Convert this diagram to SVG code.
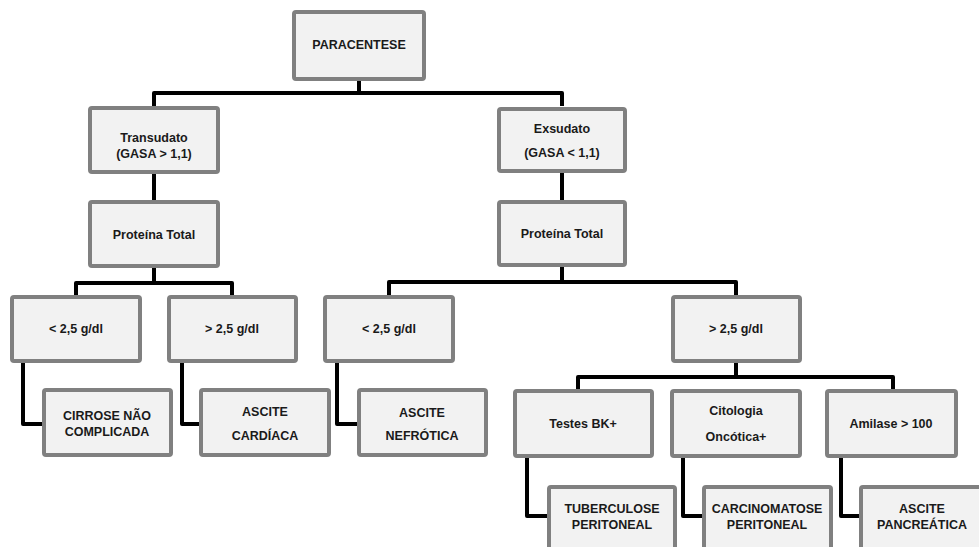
<svg xmlns="http://www.w3.org/2000/svg" width="979" height="547" viewBox="0 0 979 547">
<style>
.box rect{fill:#f2f2f2;stroke:#808080;stroke-width:4}
.box text{font-family:"Liberation Sans",Arial,sans-serif;font-size:12.5px;font-weight:bold;fill:#1a1a1a;text-anchor:middle}
#connectors path{fill:none;stroke:#000;stroke-width:4;stroke-linejoin:round}
</style>
<rect width="979" height="547" fill="#fff"/>
<g id="connectors">
<path d="M359 81V93M154 106V93H562V106"/>
<path d="M154 174V200M154 268V283M76 295V283H232V295"/>
<path d="M562 173V200M562 267V282M389 295V282H736V295"/>
<path d="M23 363V424H42M182 363V424H199M337 363V424H357"/>
<path d="M736 363V377M578 389V377H893V389"/>
<path d="M527 458V516H547M683 458V516H702M841 458V516H859"/>
</g>
<g id="paracentese" class="box"><rect x="294" y="12" width="130" height="67" rx="2"/><text x="359" y="49">PARACENTESE</text></g>
<g id="transudato" class="box"><rect x="90" y="108" width="128" height="64" rx="2"/><text x="154" y="142">Transudato</text><text x="154" y="158">(GASA &gt; 1,1)</text></g>
<g id="proteina-left" class="box"><rect x="90" y="202" width="128" height="64" rx="2"/><text x="154" y="239">Proteína Total</text></g>
<g id="exsudato" class="box"><rect x="499" y="109" width="126" height="62" rx="2"/><text x="562" y="133">Exsudato</text><text x="562" y="157">(GASA &lt; 1,1)</text></g>
<g id="proteina-right" class="box"><rect x="499" y="202" width="126" height="63" rx="2"/><text x="562" y="238">Proteína Total</text></g>
<g id="lt25-left" class="box"><rect x="12" y="297" width="128" height="64" rx="2"/><text x="76" y="333">&lt; 2,5 g/dl</text></g>
<g id="gt25-left" class="box"><rect x="169" y="297" width="127" height="64" rx="2"/><text x="232" y="333">&gt; 2,5 g/dl</text></g>
<g id="lt25-right" class="box"><rect x="325" y="297" width="128" height="64" rx="2"/><text x="389" y="333">&lt; 2,5 g/dl</text></g>
<g id="gt25-right" class="box"><rect x="673" y="297" width="127" height="64" rx="2"/><text x="736" y="333">&gt; 2,5 g/dl</text></g>
<g id="cirrose" class="box"><rect x="44" y="390" width="127" height="65" rx="2"/><text x="107" y="420">CIRROSE NÃO</text><text x="107" y="436">COMPLICADA</text></g>
<g id="cardiaca" class="box"><rect x="201" y="390" width="128" height="65" rx="2"/><text x="265" y="416">ASCITE</text><text x="265" y="440">CARDÍACA</text></g>
<g id="nefrotica" class="box"><rect x="359" y="390" width="127" height="65" rx="2"/><text x="422" y="417">ASCITE</text><text x="422" y="440">NEFRÓTICA</text></g>
<g id="testes-bk" class="box"><rect x="515" y="391" width="137" height="65" rx="2"/><text x="583" y="428">Testes BK+</text></g>
<g id="citologia" class="box"><rect x="672" y="391" width="128" height="65" rx="2"/><text x="736" y="415">Citologia</text><text x="736" y="441">Oncótica+</text></g>
<g id="amilase" class="box"><rect x="827" y="391" width="129" height="65" rx="2"/><text x="891" y="428">Amilase &gt; 100</text></g>
<g id="tuberculose" class="box"><rect x="549" y="487" width="126" height="80" rx="2"/><text x="612" y="513">TUBERCULOSE</text><text x="612" y="529">PERITONEAL</text></g>
<g id="carcinomatose" class="box"><rect x="704" y="487" width="127" height="80" rx="2"/><text x="767" y="513">CARCINOMATOSE</text><text x="767" y="529">PERITONEAL</text></g>
<g id="pancreatica" class="box"><rect x="861" y="487" width="128" height="80" rx="2"/><text x="922" y="513">ASCITE</text><text x="922" y="529">PANCREÁTICA</text></g>
</svg>
